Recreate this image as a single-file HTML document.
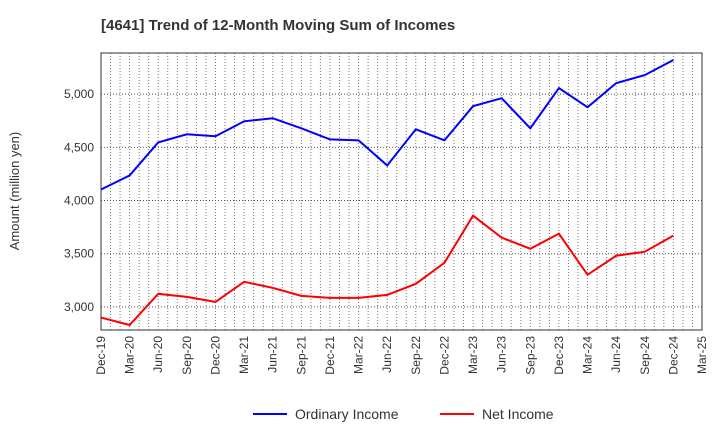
<!DOCTYPE html>
<html><head><meta charset="utf-8"><style>
body{margin:0;background:#fff;font-family:"Liberation Sans",sans-serif}
</style></head><body>
<svg id="chart" width="720" height="440" xmlns="http://www.w3.org/2000/svg" font-family="Liberation Sans, sans-serif">
<text x="101" y="30" font-size="15" font-weight="bold" fill="#333">[4641]  Trend of 12-Month Moving Sum of Incomes</text>
<g id="grid"></g>
<rect x="101" y="53" width="601" height="277" fill="none" stroke="#333" stroke-width="1"/>
<g id="axes"></g>
<g id="series"></g>
<text transform="translate(19,191) rotate(-90)" text-anchor="middle" font-size="13" fill="#333">Amount (million yen)</text>
<g>
<line x1="253" y1="414" x2="287" y2="414" stroke="#0000ff" stroke-width="2"/>
<text x="295" y="419" font-size="14" fill="#333">Ordinary Income</text>
<line x1="440" y1="414" x2="474" y2="414" stroke="#ff0000" stroke-width="2"/>
<text x="482" y="419" font-size="14" fill="#333">Net Income</text>
</g>
</svg>
<script>
const categories=["Dec-19","Mar-20","Jun-20","Sep-20","Dec-20","Mar-21","Jun-21","Sep-21","Dec-21","Mar-22","Jun-22","Sep-22","Dec-22","Mar-23","Jun-23","Sep-23","Dec-23","Mar-24","Jun-24","Sep-24","Dec-24","Mar-25"];
const ordinaryIncome=[4104,4236,4547,4623,4604,4745,4774,4679,4575,4566,4330,4670,4566,4887,4962,4679,5057,4877,5104,5179,5321];
const netIncome=[2900,2830,3123,3094,3047,3236,3179,3104,3085,3085,3113,3217,3415,3858,3651,3547,3689,3302,3481,3519,3670];
const yTicks=[3000,3500,4000,4500,5000];
const ns="http://www.w3.org/2000/svg";
const x0=101,x1=702,yTop=53,yBot=330,vMin=2783,vMax=5387;
const xs=i=>x0+i*(x1-x0)/(categories.length-1);
const ys=v=>yBot-(v-vMin)/(vMax-vMin)*(yBot-yTop);
function mk(t,a,p){const e=document.createElementNS(ns,t);for(const k in a)e.setAttribute(k,a[k]);p.appendChild(e);return e;}
const grid=document.getElementById('grid'),axes=document.getElementById('axes'),series=document.getElementById('series');
for(let m=0;m<=(categories.length-1)*3;m++){
 const gx=xs(m/3);
 const l=mk('line',{x1:gx,x2:gx,y1:yTop,y2:yBot,stroke:'#777','stroke-dasharray':'1,2'},grid);
 
 
}
categories.forEach((c,i)=>{
 const t=mk('text',{transform:`translate(${xs(i)+4},${yBot+6}) rotate(-90)`,'text-anchor':'end','font-size':'12',fill:'#333'},axes);
 t.textContent=c;
 
 
});
yTicks.forEach(v=>{
 const l=mk('line',{x1:x0,x2:x1,y1:ys(v),y2:ys(v),stroke:'#555','stroke-dasharray':'1,2'},grid);
 
 
 const t=mk('text',{x:x0-7,y:ys(v)+4,'text-anchor':'end','font-size':'12',fill:'#333'},axes);
 t.textContent=v.toLocaleString('en-US');
 
 
});
function line(d,col,name){
 const p=mk('polyline',{points:d.map((v,i)=>xs(i)+','+ys(v)).join(' '),fill:'none',stroke:col,'stroke-width':2},series);
 
 
}
line(ordinaryIncome,'#0000ff','ordinary-income-line');
line(netIncome,'#ff0000','net-income-line');
</script>
</body></html>
